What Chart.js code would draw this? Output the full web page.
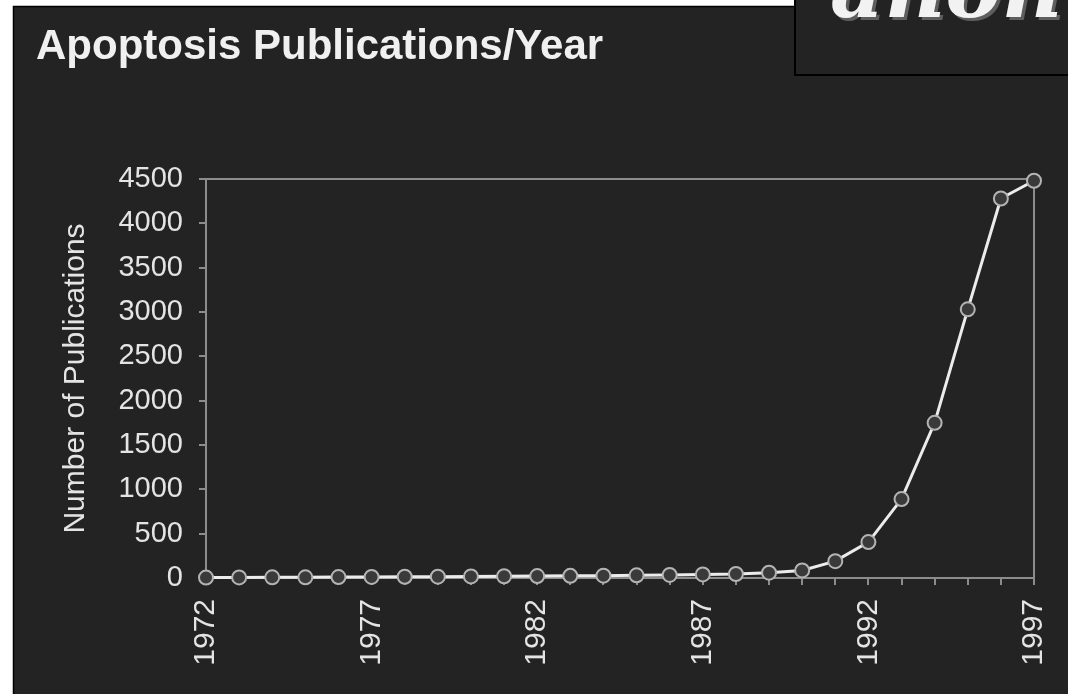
<!DOCTYPE html>
<html>
<head>
<meta charset="utf-8">
<script src="https://cdn.jsdelivr.net/npm/chart.js@4/dist/chart.umd.min.js"></script>
<style>
  html, body { margin: 0; padding: 0; background: #ffffff; }
  #wrap { position: relative; width: 1068px; height: 694px; }
  canvas { display: block; }
</style>
</head>
<body>
<div id="wrap"><canvas id="c" width="1068" height="694"></canvas></div>
<script>
// ---- data ----
const years = [1972,1973,1974,1975,1976,1977,1978,1979,1980,1981,1982,1983,1984,
               1985,1986,1987,1988,1989,1990,1991,1992,1993,1994,1995,1996,1997];
const publications = [5,6,8,8,10,12,14,15,18,20,22,24,26,
                      30,35,40,45,60,85,190,405,890,1750,3030,4280,4480];
const labeledYears = [1972,1977,1982,1987,1992,1997];
const yTicks = [0,500,1000,1500,2000,2500,3000,3500,4000,4500];
const titleText = 'Apoptosis Publications/Year';
const yAxisTitle = 'Number of Publications';
const cornerText = 'anon';

const FONT = "'Liberation Sans', Arial, sans-serif";
const PANEL = '#232323';
const TEXT = '#e4e4e4';
const AXIS = '#8c8c8c';

const backdrop = {
  id: 'backdrop',
  beforeDraw(chart) {
    const ctx = chart.ctx;
    ctx.save();
    ctx.fillStyle = '#ffffff';
    ctx.fillRect(0, 0, chart.width, chart.height);
    // main dark panel
    ctx.fillStyle = PANEL;
    ctx.fillRect(13, 6, chart.width, chart.height);
    ctx.strokeStyle = '#000000';
    ctx.lineWidth = 1.5;
    ctx.strokeRect(13.5, 6.5, chart.width + 10, chart.height + 10);
    // top-right inset box
    ctx.fillStyle = PANEL;
    ctx.fillRect(795, -2, chart.width, 77);
    ctx.lineWidth = 2;
    ctx.strokeStyle = '#000000';
    ctx.strokeRect(795, -2, chart.width, 77);
    ctx.beginPath();
    ctx.rect(796, 0, chart.width, 74);
    ctx.clip();
    ctx.font = "italic bold 84px 'DejaVu Serif', serif";
    ctx.textBaseline = 'alphabetic';
    ctx.fillStyle = '#5e5e5e';
    ctx.fillText(cornerText, 833, 20);
    ctx.fillStyle = '#f2f2f2';
    ctx.fillText(cornerText, 830, 17);
    ctx.restore();
  },
  beforeDatasetsDraw(chart) {
    const {ctx, chartArea: a} = chart;
    ctx.save();
    ctx.strokeStyle = AXIS;
    ctx.lineWidth = 2;
    ctx.beginPath();
    ctx.moveTo(a.left, a.top);
    ctx.lineTo(a.right, a.top);
    ctx.lineTo(a.right, a.bottom);
    ctx.stroke();
    ctx.restore();
  }
};

new Chart(document.getElementById('c'), {
  type: 'line',
  data: {
    labels: years,
    datasets: [{
      data: publications,
      borderColor: '#ececec',
      borderWidth: 3,
      pointRadius: 7,
      pointBorderWidth: 2,
      pointBackgroundColor: '#3a3a3a',
      pointBorderColor: '#b4b4b4',
      tension: 0,
      clip: false
    }]
  },
  options: {
    responsive: false,
    animation: false,
    events: [],
    layout: { padding: { left: 36, right: 34, top: 0, bottom: 0 } },
    plugins: {
      legend: { display: false },
      tooltip: { enabled: false },
      title: {
        display: true,
        text: titleText,
        align: 'start',
        color: '#f0f0f0',
        font: { family: FONT, size: 42, weight: 'bold', lineHeight: 1 },
        padding: { top: 26, bottom: 111 }
      }
    },
    scales: {
      x: {
        type: 'category',
        offset: false,
        grid: { display: true, drawOnChartArea: false, drawTicks: true, tickLength: 7, color: AXIS, lineWidth: 2, offset: false },
        border: { display: true, color: AXIS, width: 2 },
        ticks: {
          autoSkip: false,
          minRotation: 90,
          maxRotation: 90,
          padding: 14,
          color: TEXT,
          font: { family: FONT, size: 30 },
          callback(value, index) {
            const y = years[index];
            return labeledYears.includes(y) ? String(y) : '';
          }
        },
        afterFit(s) { s.height = 116; s.paddingLeft = 0; s.paddingRight = 0; }
      },
      y: {
        min: 0,
        max: 4500,
        afterBuildTicks(s) { s.ticks = yTicks.map(v => ({ value: v })); },
        grid: { display: true, drawOnChartArea: false, drawTicks: true, tickLength: 7, color: AXIS, lineWidth: 2 },
        border: { display: true, color: AXIS, width: 2 },
        ticks: {
          padding: 16,
          color: TEXT,
          font: { family: FONT, size: 29 },
          callback(value) { return String(value); }
        },
        title: {
          display: true,
          text: yAxisTitle,
          color: TEXT,
          font: { family: FONT, size: 30, lineHeight: 1.2 },
          padding: { top: 22, bottom: 0 }
        },
        afterFit(s) { s.width = 170; s.paddingTop = 0; s.paddingBottom = 0; }
      }
    }
  },
  plugins: [backdrop]
});
</script>
</body>
</html>
